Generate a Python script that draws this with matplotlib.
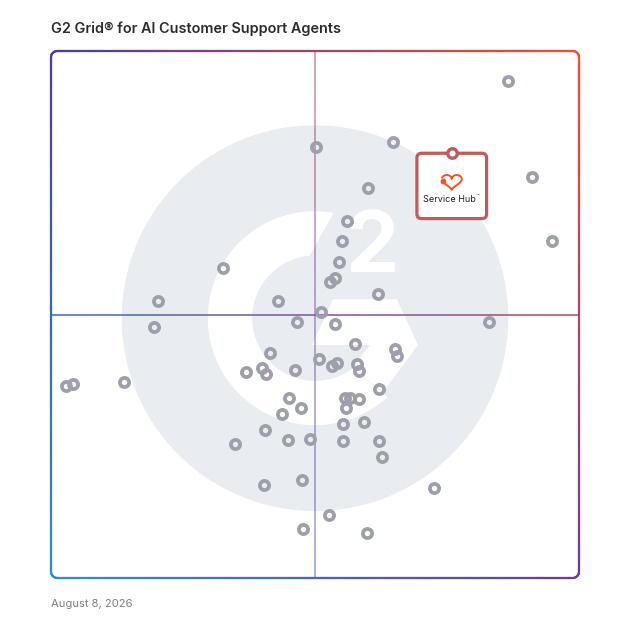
import numpy as np
import matplotlib
import matplotlib.pyplot as plt
from matplotlib.collections import LineCollection
from matplotlib.patches import Circle, Polygon, FancyBboxPatch
from matplotlib.colors import to_rgb

matplotlib.use('Agg')

title = 'G2 Grid® for AI Customer Support Agents'
date_label = 'August 8, 2026'

# products on the grid: satisfaction (x) and market presence (y), 0-100
market_x = [86.6, 64.8, 50.2, 91.1, 60.0, 56.1, 55.1, 94.9, 54.5, 32.6,
            53.8, 52.8, 61.9, 20.3, 43.0, 51.1, 46.6, 53.8, 83.0, 19.5,
            57.6, 65.2, 65.5, 41.5, 50.8, 53.2, 54.2, 58.0, 58.3, 36.9,
            40.0, 40.7, 46.2, 4.2, 2.8, 13.8, 62.1, 45.1, 47.3, 43.8,
            55.7, 56.6, 58.3, 55.9, 59.3, 55.3, 40.5, 34.8, 44.9, 49.1,
            55.3, 62.1, 62.7, 40.3, 47.5, 72.5, 52.7, 47.7, 59.8]
market_y = [94.3, 82.7, 81.8, 76.1, 74.0, 67.7, 63.9, 63.9, 60.0, 58.8,
            56.9, 56.2, 53.9, 52.6, 52.6, 50.5, 48.6, 48.2, 48.6, 47.6,
            44.4, 43.5, 42.1, 42.7, 41.6, 40.2, 40.8, 40.6, 39.3, 39.1,
            39.8, 38.7, 39.5, 36.8, 36.4, 37.2, 35.9, 34.2, 32.3, 31.1,
            34.2, 34.2, 34.0, 32.3, 29.6, 29.2, 28.1, 25.4, 26.2, 26.4,
            26.0, 26.0, 23.0, 17.6, 18.6, 17.1, 12.0, 9.3, 8.5]

featured_name = 'Service Hub'
featured_x = 75.9
featured_y = 80.6

# frame gradient corners
c_tl = '#4b3aa8'
c_tr = '#ff4a2a'
c_bl = '#2a8fd6'
c_br = '#6b3aa3'


def grad(x, y):
    u = np.clip(np.asarray(x) / 100.0, 0, 1)[:, None]
    v = np.clip(np.asarray(y) / 100.0, 0, 1)[:, None]
    tl, tr, bl, br = [np.array(to_rgb(c)) for c in (c_tl, c_tr, c_bl, c_br)]
    top = tl * (1 - u) + tr * u
    bot = bl * (1 - u) + br * u
    return bot * (1 - v) + top * v


def gradient_line(ax, pts, lw, alpha=1.0, z=2, cap='round'):
    segs = np.stack([pts[:-1], pts[1:]], axis=1)
    mid = segs.mean(axis=1)
    cols = grad(mid[:, 0], mid[:, 1])
    cols = np.hstack([cols, np.full((len(cols), 1), alpha)])
    lc = LineCollection(segs, colors=cols, linewidths=lw, capstyle=cap,
                        zorder=z, clip_on=False, antialiased=True)
    ax.add_collection(lc)


def rounded_rect(x0, y0, x1, y1, r, n=2000):
    pts = []
    corners = [(x1 - r, y1 - r, 0, 90), (x0 + r, y1 - r, 90, 180),
               (x0 + r, y0 + r, 180, 270), (x1 - r, y0 + r, 270, 360)]
    for cx, cy, a0, a1 in corners:
        t = np.radians(np.linspace(a0, a1, 20))
        pts += list(zip(cx + r * np.cos(t), cy + r * np.sin(t)))
    pts.append(pts[0])
    pts = np.array(pts)
    d = np.r_[0, np.cumsum(np.hypot(*np.diff(pts, axis=0).T))]
    s = np.linspace(0, d[-1], n)
    return np.column_stack([np.interp(s, d, pts[:, 0]), np.interp(s, d, pts[:, 1])])


fig = plt.figure(figsize=(6.28, 6.28), dpi=100)
ax = fig.add_axes([51 / 628, 50 / 628, 528 / 628, 527 / 628])
ax.set_xlim(0, 100)
ax.set_ylim(0, 100)
ax.axis('off')

# G2 logo watermark
logo = '#e9ecf0'
cx, cy = 50.0, 49.3
ax.add_patch(Circle((cx, cy), 36.6, color=logo, lw=0, zorder=0))
a_out = np.radians(np.linspace(80, 312.6, 200))
a_in = np.radians(np.linspace(306.5, 95, 200))
arc = np.vstack([np.column_stack([cx + 20.3 * np.cos(a_out), cy + 20.3 * np.sin(a_out)]),
                 np.column_stack([cx + 11.9 * np.cos(a_in), cy + 11.9 * np.sin(a_in)])])
ax.add_patch(Polygon(arc, closed=True, color='white', lw=0, zorder=0.5))
chevron = [(53.4, 52.9), (65.5, 52.9), (69.5, 44.2), (62.9, 35.3),
           (57.0, 39.8), (60.4, 44.2), (49.4, 44.2)]
ax.add_patch(Polygon(chevron, closed=True, color='white', lw=0, zorder=0.5))
ax.text(60.9, 62.3, '2', color='white', fontsize=61, fontweight='bold',
        family='Inter', ha='center', va='center', zorder=0.6)

# quadrant dividers (few long segments so alpha does not stack)
yy = np.linspace(0, 100, 60)
gradient_line(ax, np.column_stack([np.full_like(yy, 50.05), yy]), 1.1, alpha=0.62, z=1, cap='butt')
gradient_line(ax, np.column_stack([yy, np.full_like(yy, 50)]), 1.2, alpha=0.9, z=1, cap='butt')

# frame
gradient_line(ax, rounded_rect(0, 0, 100, 100, 1.2), 1.6, z=5)

# products
ax.plot(market_x, market_y, 'o', ls='none', mfc='none', mec='#9ca0ab',
        ms=6.6, mew=2.7, zorder=3)

# featured product card
ax.add_patch(FancyBboxPatch((featured_x - 6.6, featured_y - 12.4), 13.2, 12.4,
                            boxstyle='round,pad=0,rounding_size=0.9',
                            fc='white', ec='#c25a5c', lw=2.3, zorder=4))
ax.plot([featured_x], [featured_y], 'o', mfc='white', mec='#c25a5c',
        ms=6.8, mew=2.4, zorder=5)
t = np.linspace(0, 2 * np.pi, 300)
keep = (t < 4.35) | (t > 4.85)
hx = featured_x + 0.119 * 16 * np.sin(t) ** 3
hy = featured_y - 5.3 + 0.098 * (13 * np.cos(t) - 5 * np.cos(2 * t)
                                 - 2 * np.cos(3 * t) - np.cos(4 * t))
hx = np.where(keep, hx, np.nan)
ax.plot(hx, hy, color='#f4521e', lw=1.4, zorder=5, solid_capstyle='round')
ax.plot([featured_x - 1.75], [featured_y - 5.25], 'o', color='#f4521e', ms=3.2, zorder=5)
ax.text(featured_x - 0.4, featured_y - 8.7, featured_name, fontsize=6.5, family='Inter',
        color='#222222', ha='center', va='center', zorder=5)
ax.text(featured_x + 4.9, featured_y - 8.0, '™', fontsize=3.2, family='DejaVu Sans',
        color='#222222', ha='center', va='center', zorder=5)

fig.text(51 / 628, 1 - 29 / 628, title, fontsize=10.4, fontweight='semibold',
         family='Inter', color='#2b2b2b', ha='left', va='center')
fig.text(51 / 628, 1 - 604 / 628, date_label, fontsize=8.1, family='Inter',
         color='#7a7d83', ha='left', va='center')

fig.savefig('out.png', dpi=100, facecolor='white')
